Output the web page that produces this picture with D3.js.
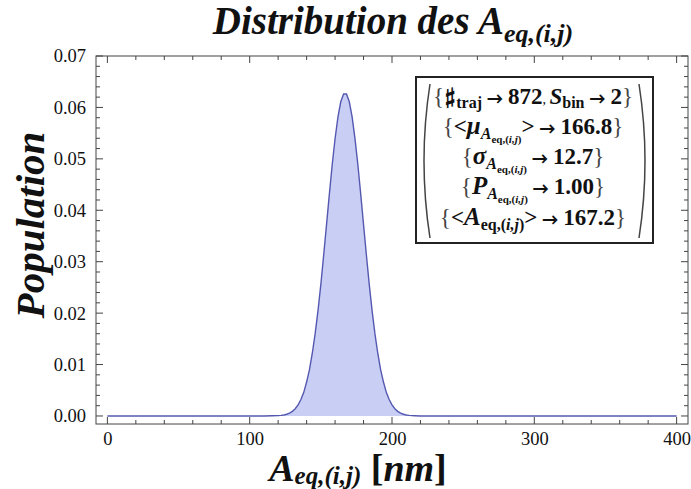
<!DOCTYPE html>
<html><head><meta charset="utf-8">
<script src="https://cdn.jsdelivr.net/npm/d3@7"></script>
<style>body{margin:0;background:#fff}svg{display:block}</style>
</head><body>
<script>
// ---- data ----
const binX = [0, 40, 80, 100, 110, 116, 120, 122, 124, 126, 128, 130, 132, 134, 136, 138, 140, 142, 144, 146, 148,
  150, 152, 154, 156, 158, 160, 162, 164, 166, 168, 170, 172, 174, 176, 178, 180, 182, 184, 186, 188,
  190, 192, 194, 196, 198, 200, 202, 204, 206, 208, 210, 212, 214, 216, 220, 240, 280, 320, 360, 400];
const population = [0, 0, 0, 0, 0, 0.00003, 0.00007, 0.00012, 0.0002, 0.00034, 0.00056, 0.0009, 0.0014, 0.00215, 0.0032, 0.0046, 0.0066, 0.0090, 0.0122, 0.0160, 0.0205,
  0.0256, 0.0313, 0.0372, 0.0432, 0.0489, 0.0539, 0.0581, 0.0611, 0.0626, 0.0626, 0.0611, 0.0581, 0.0539, 0.0489, 0.0432, 0.0372, 0.0313, 0.0256, 0.0205, 0.0160,
  0.0122, 0.0090, 0.0066, 0.0046, 0.0032, 0.00215, 0.0014, 0.0009, 0.00056, 0.00034, 0.0002, 0.00012, 0.00007, 0.00004, 0, 0, 0, 0, 0, 0];
const xMajorTicks = [0, 100, 200, 300, 400];
const xMinorTicks = d3.range(0, 401, 20);
const yMajorTicks = [0, 0.01, 0.02, 0.03, 0.04, 0.05, 0.06, 0.07];
const yMinorTicks = d3.range(0, 0.0701, 0.002);
const legendNumbers = {traj: "872", bin: "2", mu: "166.8", sigma: "12.7", P: "1.00", A: "167.2"};

// ---- drawing ----
const W = 691, H = 489;
const svg = d3.select("body").append("svg").attr("width", W).attr("height", H);
const FONT = '"Liberation Serif", "Times New Roman", serif';
const ARRF = '"FreeSerif", "Liberation Serif", serif';
const L = 96, R = 688, T = 56, B = 424;
const x = d3.scaleLinear().domain([-8, 408]).range([L, R]);
const y = d3.scaleLinear().domain([-0.00156, 0.07]).range([B, T]);
const frameCol = "#444";

// area + line
const pts = binX.map((v, i) => [v, population[i]]);
svg.append("path").datum(pts)
  .attr("d", d3.area().x(d => x(d[0])).y0(y(0)).y1(d => y(d[1])))
  .attr("fill", "#c9cff4");
svg.append("path").datum(pts)
  .attr("d", d3.line().x(d => x(d[0])).y(d => y(d[1])))
  .attr("fill", "none").attr("stroke", "#5558b0").attr("stroke-width", 1.4);

// frame
svg.append("rect").attr("x", L).attr("y", T).attr("width", R - L).attr("height", B - T)
  .attr("fill", "none").attr("stroke", frameCol).attr("stroke-width", 1);

// ticks
const tickG = svg.append("g").attr("stroke", frameCol).attr("stroke-width", 1);
xMinorTicks.forEach(v => {
  const len = xMajorTicks.includes(v) ? 7 : 4;
  tickG.append("line").attr("x1", x(v)).attr("x2", x(v)).attr("y1", B).attr("y2", B - len);
  tickG.append("line").attr("x1", x(v)).attr("x2", x(v)).attr("y1", T).attr("y2", T + len);
});
yMinorTicks.forEach(v => {
  const isMaj = yMajorTicks.some(m => Math.abs(m - v) < 1e-9);
  const len = isMaj ? 7 : 4;
  tickG.append("line").attr("y1", y(v)).attr("y2", y(v)).attr("x1", L).attr("x2", L + len);
  tickG.append("line").attr("y1", y(v)).attr("y2", y(v)).attr("x1", R).attr("x2", R - len);
});

// tick labels via axes
const xAxis = svg.append("g").attr("transform", `translate(0,${B})`)
  .call(d3.axisBottom(x).tickValues(xMajorTicks).tickSize(0).tickPadding(8).tickFormat(d3.format("d")));
const yAxis = svg.append("g").attr("transform", `translate(${L},0)`)
  .call(d3.axisLeft(y).tickValues(yMajorTicks).tickSize(0).tickPadding(10).tickFormat(d3.format(".2f")));
[xAxis, yAxis].forEach(g => {
  g.select(".domain").remove();
  g.selectAll("text").style("font-family", FONT).style("font-size", "18.5px").attr("fill", "#111");
});

// rich text helper
function rich(parent, xPos, yPos, anchor, parts) {
  const t = parent.append("text").attr("x", xPos).attr("y", yPos).attr("text-anchor", anchor)
    .style("font-family", FONT).attr("fill", "#111");
  let prev = 0;
  parts.forEach(p => {
    const s = t.append("tspan").text(p.t)
      .style("font-size", p.size + "px").style("font-weight", p.w || "bold").style("font-style", p.s || "normal")
      .attr("dy", (p.sh || 0) - prev);
    if (p.fill) s.attr("fill", p.fill);
    if (p.ff) s.style("font-family", p.ff);
    prev = p.sh || 0;
  });
  return t;
}

// title
rich(svg, 393, 34, "middle", [
  {t: "Distribution des A", size: 39, s: "italic"},
  {t: "eq,(i,j)", size: 26, s: "italic", sh: 8}
]);

// x label
rich(svg, 358, 481, "middle", [
  {t: "A", size: 38, s: "italic"},
  {t: "eq,(i,j)", size: 25, s: "italic", sh: 3},
  {t: " [", size: 38, sh: 0},
  {t: "nm", size: 38, s: "italic"},
  {t: "]", size: 38}
]);

// y label
svg.append("text").attr("transform", "translate(44,225) rotate(-90)")
  .attr("text-anchor", "middle").style("font-family", FONT).style("font-size", "41px")
  .style("font-weight", "bold").style("font-style", "italic").attr("fill", "#111").text("Population");

// legend box
const lg = svg.append("g");
lg.append("rect").attr("x", 416).attr("y", 77).attr("width", 237).attr("height", 166)
  .attr("fill", "#fff").attr("stroke", "#222").attr("stroke-width", 2);
lg.append("path").attr("d", "M430,84 Q418,161 430,238").attr("fill", "none").attr("stroke", "#444").attr("stroke-width", 1.5);
lg.append("path").attr("d", "M639,84 Q651,161 639,238").attr("fill", "none").attr("stroke", "#444").attr("stroke-width", 1.5);

const M = 23, G = 25, S1 = 16, S2 = 11, BR = "#444";
const brO = {t: "{", size: M, w: "normal", fill: BR};
const brC = {t: "}", size: M, w: "normal", fill: BR};
const ARR = {t: " \u2192 ", size: 20, ff: ARRF};
const subA = [
  {t: "A", size: S1, s: "italic", sh: 5},
  {t: "eq,(", size: S2, sh: 9},
  {t: "i,j", size: S2, s: "italic", sh: 9},
  {t: ")", size: S2, sh: 9}
];
const cx = 533;
rich(lg, cx, 104, "middle", [
  brO, {t: "\u266F", size: M - 1, ff: ARRF},
  {t: "traj", size: S1, sh: 4},
  {...ARR, sh: 0},
  {t: legendNumbers.traj, size: M},
  {t: ", ", size: 14, w: "normal"},
  {t: "S", size: M, s: "italic"},
  {t: "bin", size: S1, sh: 4},
  {...ARR, sh: 0},
  {t: legendNumbers.bin, size: M}, brC
]);
rich(lg, cx, 134, "middle", [
  brO, {t: "<", size: M}, {t: "\u03BC", size: G, s: "italic"}, ...subA,
  {t: ">", size: M, sh: 0}, ARR, {t: legendNumbers.mu, size: M}, brC
]);
rich(lg, cx, 164, "middle", [
  brO, {t: "\u03C3", size: G, s: "italic"}, ...subA,
  {...ARR, sh: 0}, {t: legendNumbers.sigma, size: M}, brC
]);
rich(lg, cx, 194, "middle", [
  brO, {t: "P", size: G, s: "italic"}, ...subA,
  {...ARR, sh: 0}, {t: legendNumbers.P, size: M}, brC
]);
rich(lg, cx, 225, "middle", [
  brO, {t: "<", size: M}, {t: "A", size: G, s: "italic"},
  {t: "eq,(", size: S1, sh: 5},
  {t: "i,j", size: S1, s: "italic", sh: 5},
  {t: ")", size: S1, sh: 5},
  {t: ">", size: M, sh: 0}, ARR, {t: legendNumbers.A, size: M}, brC
]);
</script>
</body></html>
